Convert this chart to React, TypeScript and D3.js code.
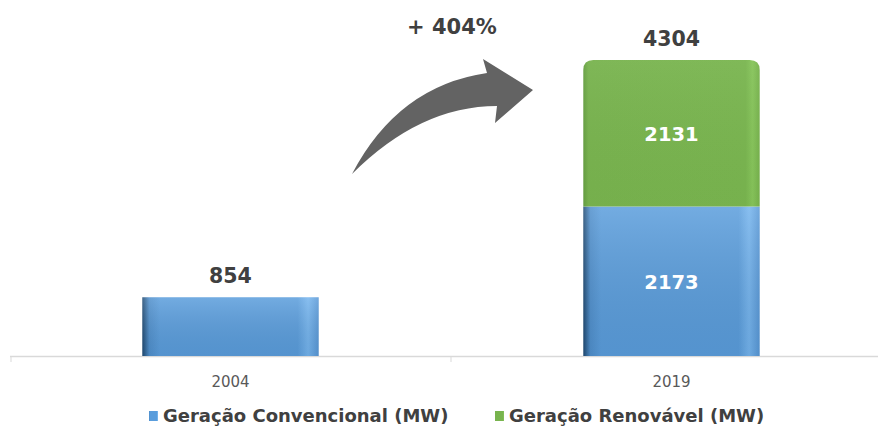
import React from 'react';
import * as d3 from 'd3';

const years = ['2004', '2019'];
const convencional = [854, 2173];
const renovavel = [0, 2131];
const seriesNames = ['Geração Convencional (MW)', 'Geração Renovável (MW)'];
const growthLabel = '+ 404%';

const W = 878;
const H = 428;
const m = { l: 10, r: -14, t: 60, b: 72 };

const App = () => {
	const totals = years.map((_, i) => convencional[i] + renovavel[i]);
	const rows = years.map((y, i) => ({ year: y, conv: convencional[i], ren: renovavel[i] }));
	const stack = d3.stack<any>().keys(['conv', 'ren'])(rows);

	const x = d3.scaleBand().domain(years).range([m.l, W - m.r]).paddingInner(0).paddingOuter(0);
	const y = d3.scaleLinear().domain([0, d3.max(totals) as number]).range([H - m.b, m.t]);
	const bw = x.bandwidth() * 0.4;
	const base = y(0);

	const fills = ['url(#blueH)', 'url(#greenH)'];
	const shades = ['url(#shadeV)', 'url(#shadeG)'];

	const roundTop = (x0: number, y0: number, w: number, h: number, r: number) =>
		`M${x0},${y0 + h} L${x0},${y0 + r} Q${x0},${y0} ${x0 + r},${y0} L${x0 + w - r},${y0} Q${x0 + w},${y0} ${x0 + w},${y0 + r} L${x0 + w},${y0 + h} Z`;

	return (
		<svg width={W} height={H} style={{ position: 'absolute', left: 0, top: 0, background: '#fff' }}>
			<defs>
				<linearGradient id="blueH" x1="0" x2="1" y1="0" y2="0">
					<stop offset="0%" stopColor="#1f4a73" />
					<stop offset="4%" stopColor="#4f8fcc" />
					<stop offset="10%" stopColor="#5a9ddc" />
					<stop offset="88%" stopColor="#5a9ddc" />
					<stop offset="94%" stopColor="#74b4ee" />
					<stop offset="100%" stopColor="#5797d6" />
				</linearGradient>
				<linearGradient id="greenH" x1="0" x2="1" y1="0" y2="0">
					<stop offset="0%" stopColor="#669f42" />
					<stop offset="3%" stopColor="#78b34e" />
					<stop offset="92%" stopColor="#79b54f" />
					<stop offset="96%" stopColor="#86c45a" />
					<stop offset="100%" stopColor="#76b14c" />
				</linearGradient>
				<linearGradient id="shadeV" x1="0" x2="0" y1="0" y2="1">
					<stop offset="0%" stopColor="#ffffff" stopOpacity={0.15} />
					<stop offset="100%" stopColor="#000000" stopOpacity={0.06} />
				</linearGradient>
				<linearGradient id="shadeG" x1="0" x2="0" y1="0" y2="1">
					<stop offset="0%" stopColor="#ffffff" stopOpacity={0.05} />
					<stop offset="100%" stopColor="#000000" stopOpacity={0.02} />
				</linearGradient>
			</defs>

			{/* axis */}
			<line x1={m.l} x2={W} y1={base + 0.5} y2={base + 0.5} stroke="#d9d9d9" strokeWidth={1.5} />
			{[m.l + 1, (x('2019') as number)].map((t, i) => (
				<line key={i} x1={t} x2={t} y1={base} y2={base + 6} stroke="#d9d9d9" strokeWidth={1} />
			))}

			{stack.map((s, si) =>
				s.map((d, i) => {
					const h = y(d[0]) - y(d[1]);
					if (h <= 0) return null;
					const bx = (x(years[i]) as number) + (x.bandwidth() - bw) / 2;
					const isTop = si === 1;
					return (
						<g key={si + '-' + i}>
							{isTop ? (
								<path d={roundTop(bx, y(d[1]), bw, h, 10)} fill={fills[si]} />
							) : (
								<rect x={bx} y={y(d[1])} width={bw} height={h} fill={fills[si]} />
							)}
							{isTop ? (
								<path d={roundTop(bx, y(d[1]), bw, h, 10)} fill={shades[si]} />
							) : (
								<rect x={bx} y={y(d[1])} width={bw} height={h} fill={shades[si]} />
							)}
							{rows[i].ren > 0 && (
								<text x={bx + bw / 2} y={(y(d[0]) + y(d[1])) / 2 + 8} textAnchor="middle" fill="#fff"
									fontFamily="DejaVu Sans" fontWeight="bold" fontSize={19.5}>{d[1] - d[0]}</text>
							)}
						</g>
					);
				})
			)}

			{totals.map((t, i) => (
				<text key={i} x={(x(years[i]) as number) + x.bandwidth() / 2} y={y(t) - 14} textAnchor="middle"
					fill="#404040" fontFamily="DejaVu Sans" fontWeight="bold" fontSize={20.5}>{t}</text>
			))}

			{years.map((yr, i) => (
				<text key={yr} x={(x(yr) as number) + x.bandwidth() / 2} y={base + 31} textAnchor="middle"
					fill="#595959" fontFamily="DejaVu Sans" fontSize={15}>{yr}</text>
			))}

			{/* growth arrow */}
			<path d="M352,174 Q398,86 487,73 L483,59 L533,90 L495,123 L497,106 Q420,106 352,174 Z" fill="#636363" />
			<text x={452} y={34} textAnchor="middle" fill="#404040" fontFamily="DejaVu Sans" fontWeight="bold" fontSize={21}>{growthLabel}</text>

			{/* legend */}
			{seriesNames.map((n, i) => {
				const lx = [149, 495][i];
				return (
					<g key={n}>
						<rect x={lx} y={411} width={9} height={10} fill={fills[i]} />
						<text x={lx + 14} y={422} fill="#404040" fontFamily="DejaVu Sans" fontWeight="bold" fontSize={18}>{n}</text>
					</g>
				);
			})}
		</svg>
	);
};

export default App;
